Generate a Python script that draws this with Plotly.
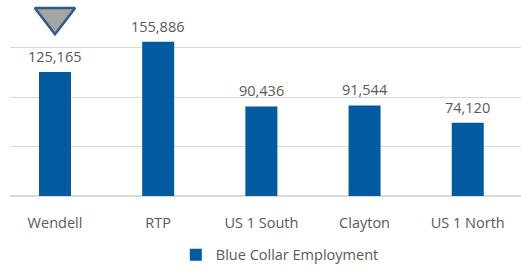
import plotly.graph_objects as go

categories = ["Wendell", "RTP", "US 1 South", "Clayton", "US 1 North"]
values = [125165, 155886, 90436, 91544, 74120]
series_name = "Blue Collar Employment"
highlight = "Wendell"

BAR = "#035A9E"
TXT = "#595959"
FONT = "Open Sans"

fig = go.Figure()
fig.add_trace(go.Bar(
    x=categories, y=values, name=series_name,
    marker=dict(color=BAR, line=dict(width=0)),
    width=0.31,
))
# data labels
for c, v in zip(categories, values):
    fig.add_annotation(x=c, y=v, text=f"{v:,}", showarrow=False,
                       yanchor="bottom", yshift=4,
                       font=dict(family=FONT, size=14.5, color=TXT))
# highlight marker (decoration above the selected category)
fig.add_trace(go.Scatter(
    x=[highlight], y=[0.915], yaxis="y2", mode="markers", showlegend=False,
    marker=dict(symbol="triangle-down", size=35, color="#A5A5A5",
                line=dict(color="#2E5C8A", width=2.5)),
    hoverinfo="skip",
))

fig.update_layout(
    width=521, height=271,
    margin=dict(l=10, r=0, t=0, b=71),
    paper_bgcolor="white", plot_bgcolor="white",
    showlegend=True,
    legend=dict(orientation="h", x=0.528, xanchor="center", y=-0.3, yanchor="middle",
                font=dict(family=FONT, size=14.5, color=TXT), itemwidth=30),
    xaxis=dict(range=[-0.436, 4.516], showgrid=False, showline=False, ticks="",
               tickfont=dict(family=FONT, size=14.5, color=TXT), ticklabelstandoff=16),
    yaxis=dict(range=[0, 198000], dtick=50000, showticklabels=False,
               gridcolor="#D9D9D9", gridwidth=1, zeroline=True,
               zerolinecolor="#D9D9D9", zerolinewidth=1.5, showline=False),
    yaxis2=dict(overlaying="y", range=[0, 1], visible=False),
)
fig.write_html("out.html", post_script="document.body.style.margin='0';",
               config={"displayModeBar": False})
